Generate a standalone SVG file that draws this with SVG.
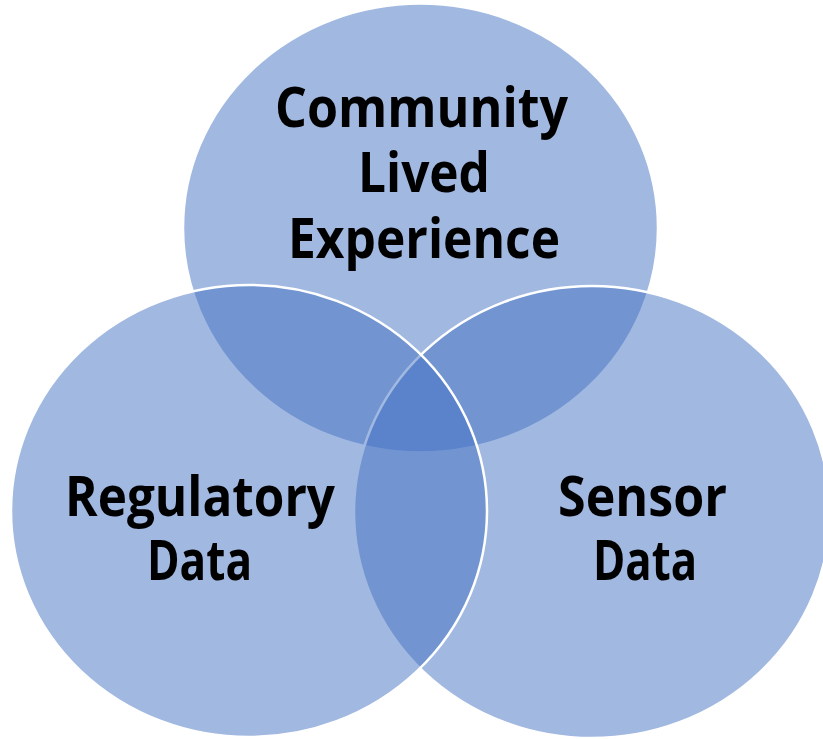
<svg xmlns="http://www.w3.org/2000/svg" width="823" height="739" viewBox="0 0 823 739">
  <style>
    .c { fill: #4472C4; fill-opacity: 0.5; stroke: #FFFFFF; stroke-width: 2.5; }
    .t { font-family: "Open Sans", "Noto Sans", "DejaVu Sans", sans-serif; font-weight: 700; font-size: 55px; fill: #000000; text-anchor: middle; }
  </style>
  <rect width="823" height="739" fill="#FFFFFF"/>
  <g id="community">
    <ellipse class="c" cx="420.5" cy="228" rx="237.5" ry="224.5"/>
    <text class="t"><tspan x="421.5" y="127" textLength="293" lengthAdjust="spacingAndGlyphs">Community</tspan><tspan x="424" y="192" textLength="132" lengthAdjust="spacingAndGlyphs">Lived</tspan><tspan x="424" y="258" textLength="272" lengthAdjust="spacingAndGlyphs">Experience</tspan></text>
  </g>
  <g id="sensor">
    <ellipse class="c" cx="592" cy="512" rx="238" ry="226"/>
    <text class="t"><tspan x="642.5" y="516" textLength="169" lengthAdjust="spacingAndGlyphs">Sensor</tspan><tspan x="645" y="580" textLength="104" lengthAdjust="spacingAndGlyphs">Data</tspan></text>
  </g>
  <g id="regulatory">
    <ellipse class="c" cx="249" cy="511" rx="238" ry="226"/>
    <text class="t"><tspan x="200" y="516" textLength="270" lengthAdjust="spacingAndGlyphs">Regulatory</tspan><tspan x="199.5" y="580" textLength="105" lengthAdjust="spacingAndGlyphs">Data</tspan></text>
  </g>
  <g id="connectors"></g>
</svg>
